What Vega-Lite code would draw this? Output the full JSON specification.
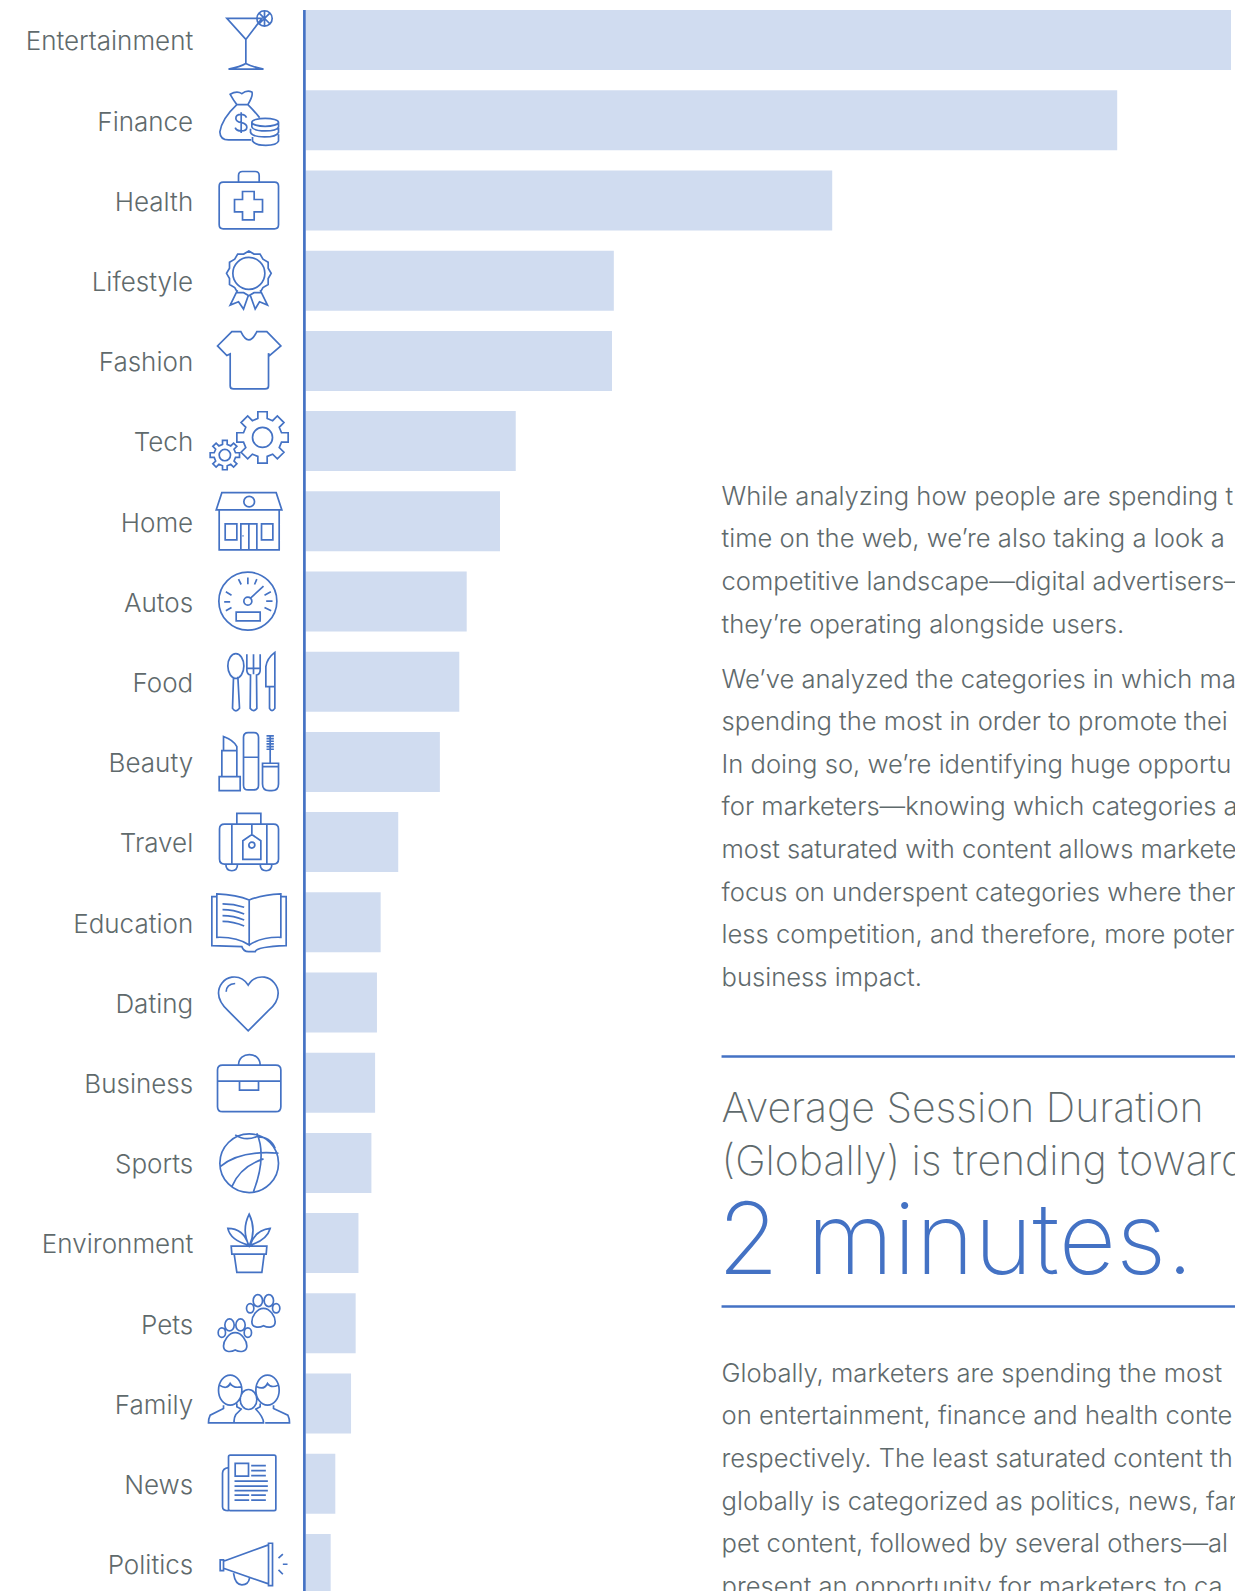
{"$schema":"https://vega.github.io/schema/vega-lite/v6.json","autosize":"none","width":929.3,"height":1591,"padding":{"left":305.7,"top":0,"right":0,"bottom":0},"background":"white","config":{"view":{"stroke":null},"font":"Inter"},"datasets":{"spend":[{"category":"Entertainment","share":100},{"category":"Finance","share":87.7},{"category":"Health","share":56.9},{"category":"Lifestyle","share":33.3},{"category":"Fashion","share":33.1},{"category":"Tech","share":22.7},{"category":"Home","share":21.0},{"category":"Autos","share":17.4},{"category":"Food","share":16.6},{"category":"Beauty","share":14.5},{"category":"Travel","share":10.0},{"category":"Education","share":8.1},{"category":"Dating","share":7.7},{"category":"Business","share":7.5},{"category":"Sports","share":7.1},{"category":"Environment","share":5.7},{"category":"Pets","share":5.4},{"category":"Family","share":4.9},{"category":"News","share":3.2},{"category":"Politics","share":2.7}]},"layer":[{"data":{"name":"spend"},"mark":{"type":"bar","color":"#D0DCF0"},"encoding":{"y":{"field":"category","type":"nominal","sort":null,"scale":{"range":[0,1604],"paddingInner":0.252,"paddingOuter":0.126},"axis":{"title":null,"domain":false,"ticks":false,"grid":false,"labelPadding":113,"labelFontSize":26,"labelFont":"Inter","labelFontWeight":300,"labelColor":"#5F6A6C","labelOffset":2.2}},"x":{"field":"share","type":"quantitative","scale":{"domain":[0,100.43],"nice":false},"axis":null}}},{"data":{"name":"spend"},"mark":{"type":"point","filled":false,"stroke":"#4472C4","strokeWidth":1.7,"opacity":1,"size":0.4444},"encoding":{"y":{"field":"category","type":"nominal","sort":null},"x":{"datum":-6.18},"shape":{"field":"category","type":"nominal","sort":null,"legend":null,"scale":{"domain":["Entertainment","Finance","Health","Lifestyle","Fashion","Tech","Home","Autos","Food","Beauty","Travel","Education","Dating","Business","Sports","Environment","Pets","Family","News","Politics"],"range":["M -65 -65 L 40 -65 L -8 -2 Z M -8 -2 L -8 70 M -60 87 Q -25 80 -8 70 Q 10 80 45 87 Z M 25 -65 A 23 23 0 1 1 71 -65 A 23 23 0 1 1 25 -65 Z M 48 -88 L 48 -42 M 32 -81 L 64 -49 M 32 -49 L 64 -81","M -55 -78 Q -35 -90 -20 -80 Q -5 -92 10 -85 Q 15 -75 -2 -47 L -35 -47 Q -45 -60 -55 -78 Z M -35 -47 Q -80 -5 -86 35 Q -85 59 -60 59 L 8 59 M -2 -47 Q 20 -25 33 -8 M -6 -8 Q -10 -18 -22 -18 Q -38 -18 -38 -6 Q -38 4 -22 7 Q -5 10 -5 21 Q -5 32 -22 32 Q -36 32 -40 22 M -22 -24 L -22 38 M 10 6 A 40 12 0 1 1 90 6 A 40 12 0 1 1 10 6 Z M 10 6 L 10 20 Q 15 32 50 32 Q 85 32 90 20 L 90 6 M 6 25 L 6 36 Q 12 50 48 50 Q 84 50 90 36 L 90 22 M 12 50 L 12 62 Q 20 75 52 75 Q 85 75 90 62 L 90 42","M -76 -55 L 78 -55 Q 90 -55 90 -43 L 90 73 Q 90 85 78 85 L -76 85 Q -88 85 -88 73 L -88 -43 Q -88 -55 -76 -55 Z M -30 -55 L -30 -75 Q -30 -87 -18 -87 L 20 -87 Q 32 -87 32 -75 L 32 -55 M -18 -27 L 17 -27 L 17 -3 L 42 -3 L 42 34 L 17 34 L 17 58 L -18 58 L -18 34 L -42 34 L -42 -3 L -18 -3 Z","M 68 -22 L 59 -6.5 L 59 11.5 L 43.4 20.4 L 34.5 36 L 16.5 36 L 1 45 L -14.5 36 L -32.5 36 L -41.4 20.4 L -57 11.5 L -57 -6.5 L -66 -22 L -57 -37.5 L -57 -55.5 L -41.4 -64.4 L -32.5 -80 L -14.5 -80 L 1 -89 L 16.5 -80 L 34.5 -80 L 43.4 -64.4 L 59 -55.5 L 59 -37.5 Z M -47 -22 A 48 48 0 1 1 49 -22 A 48 48 0 1 1 -47 -22 Z M -33 28 L -55 73 L -30 63 L -15 85 L 0 43 M 5 43 L 20 85 L 33 63 L 57 73 L 35 28","M 25 -88 L 55 -88 L 97 -45 L 63 -16 L 60 -23 L 60 75 Q 60 84 50 84 L -45 84 Q -55 84 -55 75 L -55 -21 L -65 -16 L -93 -45 L -50 -88 L -23 -88 Q 1 -38 25 -88 Z","M 99 -25 L 119 -25 L 119 3 L 99 3 L 92.2 19.4 L 106.3 33.5 L 86.5 53.3 L 72.4 39.2 L 56 46 L 56 66 L 28 66 L 28 46 L 11.6 39.2 L -2.5 53.3 L -22.3 33.5 L -8.2 19.4 L -15 3 L -35 3 L -35 -25 L -15 -25 L -8.2 -41.4 L -22.3 -55.5 L -2.5 -75.3 L 11.6 -61.2 L 28 -68 L 28 -88 L 56 -88 L 56 -68 L 72.4 -61.2 L 86.5 -75.3 L 106.3 -55.5 L 92.2 -41.4 Z M 12 -11 A 30 30 0 1 1 72 -11 A 30 30 0 1 1 12 -11 Z M -39 35 L -27 35 L -27 49 L -39 49 L -43.4 59.7 L -35 68.2 L -44.8 78 L -53.3 69.6 L -64 74 L -64 86 L -78 86 L -78 74 L -88.7 69.6 L -97.2 78 L -107 68.2 L -98.6 59.7 L -103 49 L -115 49 L -115 35 L -103 35 L -98.6 24.3 L -107 15.8 L -97.2 6 L -88.7 14.4 L -78 10 L -78 -2 L -64 -2 L -64 10 L -53.3 14.4 L -44.8 6 L -35 15.8 L -43.4 24.3 Z M -88 42 A 17 17 0 1 1 -54 42 A 17 17 0 1 1 -88 42 Z","M -97 -34 L -80 -86 L 83 -86 L 100 -34 Z M -88 -34 L -88 86 L 92 86 L 92 -34 M -23 86 L -23 8 L 25 8 L 25 86 M 1 8 L 1 86 M -70 8 L -35 8 L -35 56 L -70 56 Z M 39 8 L 73 8 L 73 56 L 39 56 Z M -14 -59 A 16 16 0 1 1 18 -59 A 16 16 0 1 1 -14 -59 Z M -18 44 L -15 44 M -88 86 L 92 86","M -89 -1 A 87 87 0 1 1 85 -1 A 87 87 0 1 1 -89 -1 Z M -14 -1 A 12 12 0 1 1 10 -1 A 12 12 0 1 1 -14 -1 Z M 6 -10 L 45 -46 M -73 1 L -55 1 M -68 -29 L -51 -19 M -30 -67 L -22 -51 M -2 -72 L -2 -52 M 25 -67 L 18 -51 M 48 -19 L 67 -29 M 53 -1 L 72 -1 M 48 18 L 68 28 M -68 28 L -51 18 M -37 32 L 35 32 L 35 58 L -37 58 Z","M -62 -47 A 24 37 0 1 1 -14 -47 A 24 37 0 1 1 -62 -47 Z M -45 -15 L -48 80 Q -38 95 -27 80 L -32 -15 M -5 -82 L -5 -35 Q -5 -22 6 -20 L 5 80 Q 15 93 25 80 L 24 -20 Q 35 -22 35 -35 L 35 -82 M 15 -82 L 15 -22 M -5 -40 L 35 -40 M 79 -88 L 79 15 L 52 15 L 52 -45 Q 55 -70 79 -88 Z M 63 15 L 63 80 Q 70 93 79 80 L 79 15","M -88 44 L -25 44 L -25 86 L -88 86 Z M -80 44 L -80 -34 L -35 -34 L -35 44 M -75 -34 L -75 -76 Q -45 -65 -35 -46 L -35 -34 M -1 -88 L 16 -88 Q 30 -88 30 -74 L 30 70 Q 30 84 16 84 L -1 84 Q -15 84 -15 70 L -15 -74 Q -15 -88 -1 -88 Z M -15 -14 L 30 -14 M 65 -81 L 65 2 M 54 -78 L 76 -78 M 54 -70 L 76 -70 M 54 -62 L 76 -62 M 54 -54 L 76 -54 M 54 -46 L 76 -46 M 54 -38 L 76 -38 M 42 4 L 90 4 L 90 66 Q 90 86 70 86 L 62 86 Q 42 86 42 66 Z M 42 14 L 90 14","M -72 -54 L 75 -54 Q 90 -54 90 -39 L 90 51 Q 90 66 75 66 L -72 66 Q -87 66 -87 51 L -87 -39 Q -87 -54 -72 -54 Z M -35 -54 L -35 -86 L 37 -86 L 37 -54 M -50 -54 L -50 66 M 55 -54 L 55 66 M -68 66 Q -68 86 -50 86 Q -33 86 -33 66 M 35 66 Q 35 86 53 86 Q 70 86 70 66 M -17 52 L -17 -4 L 10 -23 L 37 -4 L 37 52 Z M 1 9 A 9 9 0 1 1 19 9 A 9 9 0 1 1 1 9 Z M 10 -54 L 10 -23","M -95 -85 Q -35 -82 2 -67 L 2 68 Q -35 43 -95 45 Z M 2 -67 Q 40 -82 97 -85 L 97 45 Q 40 43 2 68 M -95 -77 L -110 -77 L -110 70 L -20 73 Q -15 88 0 88 L 20 88 Q 25 73 113 70 L 113 -77 L 97 -77 M -78 -55 Q -45 -55 -13 -45 M -78 -38 Q -45 -38 -13 -25 M -78 -20 Q -45 -20 -13 -7 M -78 -3 Q -45 -3 -13 11","M -1 -52 C -15 -75 -35 -78 -50 -76 C -75 -72 -90 -50 -90 -28 C -90 -5 -75 12 -60 26 L -1 85 L 58 26 C 75 12 89 -5 89 -28 C 89 -50 72 -72 48 -76 C 30 -78 12 -75 -1 -52 Z M -67 -32 Q -67 -55 -40 -57","M -78 -53 L 82 -53 Q 97 -53 97 -38 L 97 72 Q 97 87 82 87 L -78 87 Q -93 87 -93 72 L -93 -38 Q -93 -53 -78 -53 Z M -93 -5 L 97 -5 M -30 -53 C -30 -95 35 -95 35 -53 M -27 -5 L -27 22 L 30 22 L 30 -5","M -86 1 A 88 88 0 1 1 90 1 A 88 88 0 1 1 -86 1 Z M -85 11 Q -25 -39 90 -29 M -40 -84 Q -10 -64 25 -79 Q 65 -79 80 -44 M 25 -89 Q 55 -20 15 86 M -50 71 Q -25 11 45 -12","M -52 9 L 55 9 L 53 33 L -50 33 Z M -43 33 L -35 88 L 40 88 L 47 33 M 2 9 Q -22 -39 2 -87 Q 25 -39 2 9 Z M 0 6 Q -15 -44 -62 -44 Q -55 -9 0 6 Z M 5 6 Q 20 -39 65 -44 Q 55 -9 5 6 Z","M 14 -68 A 14 18 0 1 1 42 -68 A 14 18 0 1 1 14 -68 Z M 47 -68 A 14 18 0 1 1 75 -68 A 14 18 0 1 1 47 -68 Z M -6 -45 A 11 14 0 1 1 16 -45 A 11 14 0 1 1 -6 -45 Z M 72 -45 A 11 14 0 1 1 94 -45 A 11 14 0 1 1 72 -45 Z M 45 -45 C 65 -45 80 -20 80 -5 C 80 13 60 15 45 7 C 30 15 10 13 10 -5 C 10 -20 25 -45 45 -45 Z M -71 5 A 14 18 0 1 1 -43 5 A 14 18 0 1 1 -71 5 Z M -38 5 A 14 18 0 1 1 -10 5 A 14 18 0 1 1 -38 5 Z M -91 28 A 11 14 0 1 1 -69 28 A 11 14 0 1 1 -91 28 Z M -13 28 A 11 14 0 1 1 9 28 A 11 14 0 1 1 -13 28 Z M -40 28 C -20 28 -5 53 -5 68 C -5 86 -25 88 -40 80 C -55 88 -75 86 -75 68 C -75 53 -60 28 -40 28 Z","M -90 -40 A 35 45 0 1 1 -20 -40 A 35 45 0 1 1 -90 -40 Z M 22 -40 A 35 45 0 1 1 92 -40 A 35 45 0 1 1 22 -40 Z M -25 -12 A 25 30 0 1 1 25 -12 A 25 30 0 1 1 -25 -12 Z M -87 -55 Q -65 -40 -55 -60 Q -45 -45 -23 -50 M 25 -50 Q 47 -40 57 -60 Q 67 -45 89 -55 M -75 5 L -75 15 L -115 35 Q -120 45 -120 58 L -45 58 M -35 0 L -35 10 L -20 18 M 75 5 L 75 15 L 118 35 Q 123 45 123 58 L 50 58 M 35 0 L 35 10 L 20 18 M -20 15 L -38 33 Q -45 45 -43 58 L 45 58 Q 45 40 20 15","M -55 -86 L 77 -86 Q 82 -86 82 -81 L 82 76 Q 82 81 77 81 L -55 81 Q -60 81 -60 76 L -60 -81 Q -60 -86 -55 -86 Z M -60 -48 Q -78 -46 -78 -31 L -78 69 Q -78 81 -60 81 M -40 -61 L 0 -61 L 0 -23 L -40 -23 Z M 8 -54 L 52 -54 M 8 -39 L 52 -39 M 8 -24 L 52 -24 M -42 -8 L 58 -8 M -42 7 L 58 7 M -42 21 L 58 21 M -42 34 L 2 34 M 8 34 L 52 34 M -42 49 L 2 49 M 8 49 L 52 49","M -85 -12 L -75 -12 L -75 20 L -85 20 Z M -75 -8 L 60 -57 M -75 13 L 60 60 M 60 -62 L 72 -62 L 72 65 L 60 65 Z M -45 28 Q -40 63 -20 63 Q 0 63 3 43 M 90 -17 L 103 -29 M 103 1 L 117 1 M 90 18 L 103 31"]}}}},{"data":{"values":[{"spine":"axis"}]},"mark":{"type":"rule","color":"#4472C4","strokeWidth":2.7,"xOffset":-1.3,"yOffset":-30,"y2Offset":30},"encoding":{"x":{"datum":0},"y":{"datum":"Entertainment"},"y2":{"datum":"Politics"}}},{"data":{"values":[{"block":"intro"}]},"mark":{"type":"text","align":"left","baseline":"alphabetic","font":"Inter","fontWeight":300,"fontSize":25.6,"color":"#5F6A6C","lineBreak":"\n","lineHeight":42.6,"yOffset":-16.5},"encoding":{"x":{"datum":44.94},"y":{"datum":"Home"},"text":{"value":"While analyzing how people are spending t\ntime on the web, we’re also taking a look a\ncompetitive landscape—digital advertisers—\nthey’re operating alongside users."}}},{"data":{"values":[{"block":"analysis"}]},"mark":{"type":"text","align":"left","baseline":"alphabetic","font":"Inter","fontWeight":300,"fontSize":25.6,"color":"#5F6A6C","lineBreak":"\n","lineHeight":42.6,"yOffset":6},"encoding":{"x":{"datum":44.94},"y":{"datum":"Food"},"text":{"value":"We’ve analyzed the categories in which ma\nspending the most in order to promote thei\nIn doing so, we’re identifying huge opportu\nfor marketers—knowing which categories a\nmost saturated with content allows markete\nfocus on underspent categories where ther\nless competition, and therefore, more poter\nbusiness impact."}}},{"data":{"values":[{"rule":"upper"}]},"mark":{"type":"rule","color":"#4472C4","strokeWidth":2.5,"yOffset":-26.2},"encoding":{"x":{"datum":44.94},"x2":{"datum":100.43},"y":{"datum":"Business"}}},{"data":{"values":[{"rule":"lower"}]},"mark":{"type":"rule","color":"#4472C4","strokeWidth":2.5,"yOffset":-16.7},"encoding":{"x":{"datum":44.94},"x2":{"datum":100.43},"y":{"datum":"Pets"}}},{"data":{"values":[{"block":"headline"}]},"mark":{"type":"text","align":"left","baseline":"alphabetic","font":"Inter","fontWeight":200,"fontSize":41,"color":"#5F6A6C","lineBreak":"\n","lineHeight":53,"yOffset":38.8},"encoding":{"x":{"datum":44.94},"y":{"datum":"Business"},"text":{"value":"Average Session Duration\n(Globally) is trending toward"}}},{"data":{"values":[{"block":"callout"}]},"mark":{"type":"text","align":"left","baseline":"alphabetic","font":"Inter","fontWeight":200,"fontSize":99.5,"color":"#4472C4","xOffset":-4,"yOffset":30.6},"encoding":{"x":{"datum":44.94},"y":{"datum":"Environment"},"text":{"value":"2 minutes."}}},{"data":{"values":[{"block":"summary"}]},"mark":{"type":"text","align":"left","baseline":"alphabetic","font":"Inter","fontWeight":300,"fontSize":25.6,"color":"#5F6A6C","lineBreak":"\n","lineHeight":42.7,"yOffset":-22},"encoding":{"x":{"datum":44.94},"y":{"datum":"Family"},"text":{"value":"Globally, marketers are spending the most \non entertainment, finance and health conte\nrespectively. The least saturated content th\nglobally is categorized as politics, news, far\npet content, followed by several others—al\npresent an opportunity for marketers to ca"}}}]}
